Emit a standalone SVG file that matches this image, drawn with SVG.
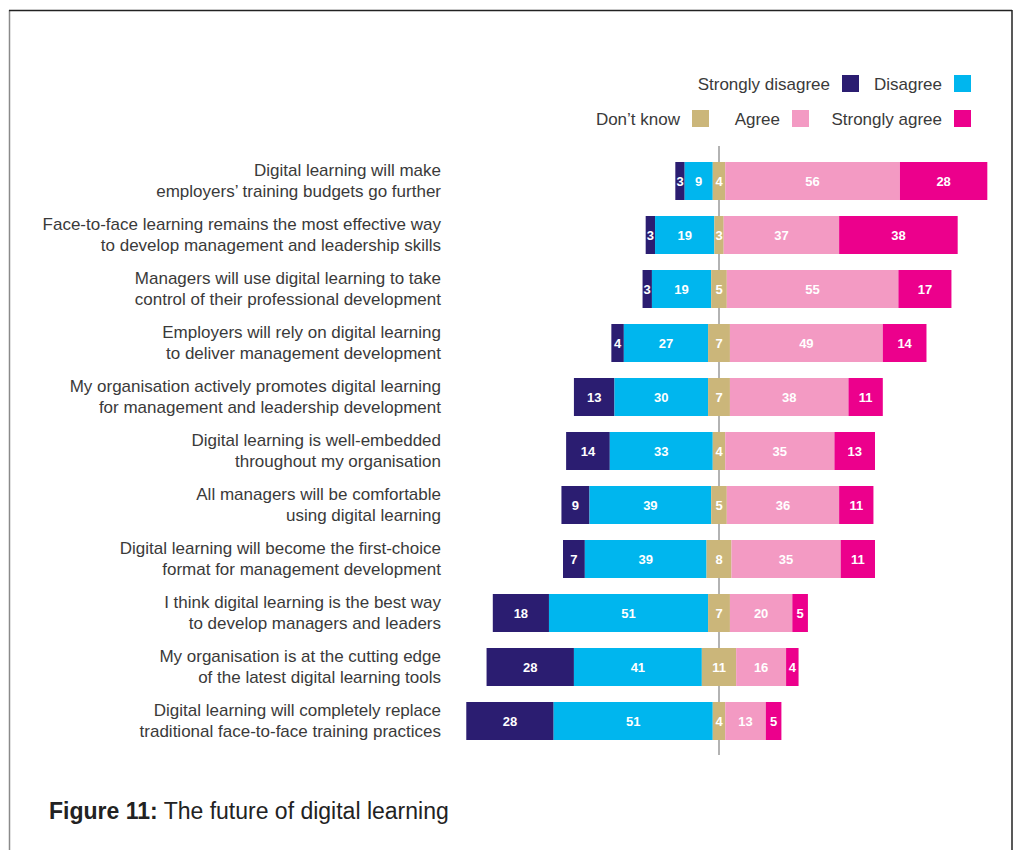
<svg xmlns="http://www.w3.org/2000/svg" width="1018" height="850" viewBox="0 0 1018 850">
<style>
.sd{fill:#2b1d71}.d{fill:#00b6ee}.dk{fill:#cbb67a}.a{fill:#f39ac3}.sa{fill:#ec008c}
.v{font-family:"Liberation Sans",Arial,sans-serif;font-size:13px;font-weight:bold;fill:#fff;text-anchor:middle}
.lbl{font-family:"Liberation Sans",Arial,sans-serif;font-size:17px;fill:#3a3a3a;text-anchor:end}
.lg{font-family:"Liberation Sans",Arial,sans-serif;font-size:17px;fill:#3a3a3a}
</style>
<rect width="1018" height="850" fill="#fff"/>
<g id="frame" fill="none">
<line x1="9.5" y1="10" x2="9.5" y2="850" stroke="#8a8a8a" stroke-width="1.5"/>
<line x1="9" y1="10.5" x2="1012" y2="10.5" stroke="#222" stroke-width="1.5"/>
<line x1="1012" y1="10" x2="1012" y2="850" stroke="#222" stroke-width="1.5"/>
</g>
<g id="axis"><line x1="719" y1="146" x2="719" y2="755" stroke="#9a9a9a" stroke-width="1.5"/></g>
<g id="legend">
<text class="lg" x="830" y="90" text-anchor="end">Strongly disagree</text><rect class="sd" x="842" y="75" width="17" height="17"/>
<text class="lg" x="942" y="90" text-anchor="end">Disagree</text><rect class="d" x="954" y="75" width="17" height="17"/>
<text class="lg" x="680" y="125" text-anchor="end">Don’t know</text><rect class="dk" x="692" y="110" width="17" height="17"/>
<text class="lg" x="780" y="125" text-anchor="end">Agree</text><rect class="a" x="792" y="110" width="17" height="17"/>
<text class="lg" x="942" y="125" text-anchor="end">Strongly agree</text><rect class="sa" x="954" y="110" width="17" height="17"/>
</g>
<g id="row1">
<text class="lbl" x="441" y="175.5">Digital learning will make</text><text class="lbl" x="441" y="196.5">employers’ training budgets go further</text>
<rect class="sd" x="675.32" y="162" width="9.36" height="38"/><rect class="d" x="684.68" y="162" width="28.08" height="38"/><rect class="dk" x="712.76" y="162" width="12.48" height="38"/><rect class="a" x="725.24" y="162" width="174.72" height="38"/><rect class="sa" x="899.96" y="162" width="87.36" height="38"/>
<text class="v" x="680" y="185.5">3</text><text class="v" x="698.72" y="185.5">9</text><text class="v" x="719" y="185.5">4</text><text class="v" x="812.6" y="185.5">56</text><text class="v" x="943.64" y="185.5">28</text>
</g>
<g id="row2">
<text class="lbl" x="441" y="229.5">Face-to-face learning remains the most effective way</text><text class="lbl" x="441" y="250.5">to develop management and leadership skills</text>
<rect class="sd" x="645.68" y="216" width="9.36" height="38"/><rect class="d" x="655.04" y="216" width="59.28" height="38"/><rect class="dk" x="714.32" y="216" width="9.36" height="38"/><rect class="a" x="723.68" y="216" width="115.44" height="38"/><rect class="sa" x="839.12" y="216" width="118.56" height="38"/>
<text class="v" x="650.36" y="239.5">3</text><text class="v" x="684.68" y="239.5">19</text><text class="v" x="719" y="239.5">3</text><text class="v" x="781.4" y="239.5">37</text><text class="v" x="898.4" y="239.5">38</text>
</g>
<g id="row3">
<text class="lbl" x="441" y="283.5">Managers will use digital learning to take</text><text class="lbl" x="441" y="304.5">control of their professional development</text>
<rect class="sd" x="642.56" y="270" width="9.36" height="38"/><rect class="d" x="651.92" y="270" width="59.28" height="38"/><rect class="dk" x="711.2" y="270" width="15.6" height="38"/><rect class="a" x="726.8" y="270" width="171.6" height="38"/><rect class="sa" x="898.4" y="270" width="53.04" height="38"/>
<text class="v" x="647.24" y="293.5">3</text><text class="v" x="681.56" y="293.5">19</text><text class="v" x="719" y="293.5">5</text><text class="v" x="812.6" y="293.5">55</text><text class="v" x="924.92" y="293.5">17</text>
</g>
<g id="row4">
<text class="lbl" x="441" y="337.5">Employers will rely on digital learning</text><text class="lbl" x="441" y="358.5">to deliver management development</text>
<rect class="sd" x="611.36" y="324" width="12.48" height="38"/><rect class="d" x="623.84" y="324" width="84.24" height="38"/><rect class="dk" x="708.08" y="324" width="21.84" height="38"/><rect class="a" x="729.92" y="324" width="152.88" height="38"/><rect class="sa" x="882.8" y="324" width="43.68" height="38"/>
<text class="v" x="617.6" y="347.5">4</text><text class="v" x="665.96" y="347.5">27</text><text class="v" x="719" y="347.5">7</text><text class="v" x="806.36" y="347.5">49</text><text class="v" x="904.64" y="347.5">14</text>
</g>
<g id="row5">
<text class="lbl" x="441" y="391.5">My organisation actively promotes digital learning</text><text class="lbl" x="441" y="412.5">for management and leadership development</text>
<rect class="sd" x="573.92" y="378" width="40.56" height="38"/><rect class="d" x="614.48" y="378" width="93.6" height="38"/><rect class="dk" x="708.08" y="378" width="21.84" height="38"/><rect class="a" x="729.92" y="378" width="118.56" height="38"/><rect class="sa" x="848.48" y="378" width="34.32" height="38"/>
<text class="v" x="594.2" y="401.5">13</text><text class="v" x="661.28" y="401.5">30</text><text class="v" x="719" y="401.5">7</text><text class="v" x="789.2" y="401.5">38</text><text class="v" x="865.64" y="401.5">11</text>
</g>
<g id="row6">
<text class="lbl" x="441" y="445.5">Digital learning is well-embedded</text><text class="lbl" x="441" y="466.5">throughout my organisation</text>
<rect class="sd" x="566.12" y="432" width="43.68" height="38"/><rect class="d" x="609.8" y="432" width="102.96" height="38"/><rect class="dk" x="712.76" y="432" width="12.48" height="38"/><rect class="a" x="725.24" y="432" width="109.2" height="38"/><rect class="sa" x="834.44" y="432" width="40.56" height="38"/>
<text class="v" x="587.96" y="455.5">14</text><text class="v" x="661.28" y="455.5">33</text><text class="v" x="719" y="455.5">4</text><text class="v" x="779.84" y="455.5">35</text><text class="v" x="854.72" y="455.5">13</text>
</g>
<g id="row7">
<text class="lbl" x="441" y="499.5">All managers will be comfortable</text><text class="lbl" x="441" y="520.5">using digital learning</text>
<rect class="sd" x="561.44" y="486" width="28.08" height="38"/><rect class="d" x="589.52" y="486" width="121.68" height="38"/><rect class="dk" x="711.2" y="486" width="15.6" height="38"/><rect class="a" x="726.8" y="486" width="112.32" height="38"/><rect class="sa" x="839.12" y="486" width="34.32" height="38"/>
<text class="v" x="575.48" y="509.5">9</text><text class="v" x="650.36" y="509.5">39</text><text class="v" x="719" y="509.5">5</text><text class="v" x="782.96" y="509.5">36</text><text class="v" x="856.28" y="509.5">11</text>
</g>
<g id="row8">
<text class="lbl" x="441" y="553.5">Digital learning will become the first-choice</text><text class="lbl" x="441" y="574.5">format for management development</text>
<rect class="sd" x="563" y="540" width="21.84" height="38"/><rect class="d" x="584.84" y="540" width="121.68" height="38"/><rect class="dk" x="706.52" y="540" width="24.96" height="38"/><rect class="a" x="731.48" y="540" width="109.2" height="38"/><rect class="sa" x="840.68" y="540" width="34.32" height="38"/>
<text class="v" x="573.92" y="563.5">7</text><text class="v" x="645.68" y="563.5">39</text><text class="v" x="719" y="563.5">8</text><text class="v" x="786.08" y="563.5">35</text><text class="v" x="857.84" y="563.5">11</text>
</g>
<g id="row9">
<text class="lbl" x="441" y="607.5">I think digital learning is the best way</text><text class="lbl" x="441" y="628.5">to develop managers and leaders</text>
<rect class="sd" x="492.8" y="594" width="56.16" height="38"/><rect class="d" x="548.96" y="594" width="159.12" height="38"/><rect class="dk" x="708.08" y="594" width="21.84" height="38"/><rect class="a" x="729.92" y="594" width="62.4" height="38"/><rect class="sa" x="792.32" y="594" width="15.6" height="38"/>
<text class="v" x="520.88" y="617.5">18</text><text class="v" x="628.52" y="617.5">51</text><text class="v" x="719" y="617.5">7</text><text class="v" x="761.12" y="617.5">20</text><text class="v" x="800.12" y="617.5">5</text>
</g>
<g id="row10">
<text class="lbl" x="441" y="661.5">My organisation is at the cutting edge</text><text class="lbl" x="441" y="682.5">of the latest digital learning tools</text>
<rect class="sd" x="486.56" y="648" width="87.36" height="38"/><rect class="d" x="573.92" y="648" width="127.92" height="38"/><rect class="dk" x="701.84" y="648" width="34.32" height="38"/><rect class="a" x="736.16" y="648" width="49.92" height="38"/><rect class="sa" x="786.08" y="648" width="12.48" height="38"/>
<text class="v" x="530.24" y="671.5">28</text><text class="v" x="637.88" y="671.5">41</text><text class="v" x="719" y="671.5">11</text><text class="v" x="761.12" y="671.5">16</text><text class="v" x="792.32" y="671.5">4</text>
</g>
<g id="row11">
<text class="lbl" x="441" y="715.5">Digital learning will completely replace</text><text class="lbl" x="441" y="736.5">traditional face-to-face training practices</text>
<rect class="sd" x="466.28" y="702" width="87.36" height="38"/><rect class="d" x="553.64" y="702" width="159.12" height="38"/><rect class="dk" x="712.76" y="702" width="12.48" height="38"/><rect class="a" x="725.24" y="702" width="40.56" height="38"/><rect class="sa" x="765.8" y="702" width="15.6" height="38"/>
<text class="v" x="509.96" y="725.5">28</text><text class="v" x="633.2" y="725.5">51</text><text class="v" x="719" y="725.5">4</text><text class="v" x="745.52" y="725.5">13</text><text class="v" x="773.6" y="725.5">5</text>
</g>
<g id="title">
<text x="49" y="819" font-family="'Liberation Sans',Arial,sans-serif" font-size="23" fill="#222"><tspan font-weight="bold">Figure 11:</tspan> The future of digital learning</text>
</g>
</svg>
